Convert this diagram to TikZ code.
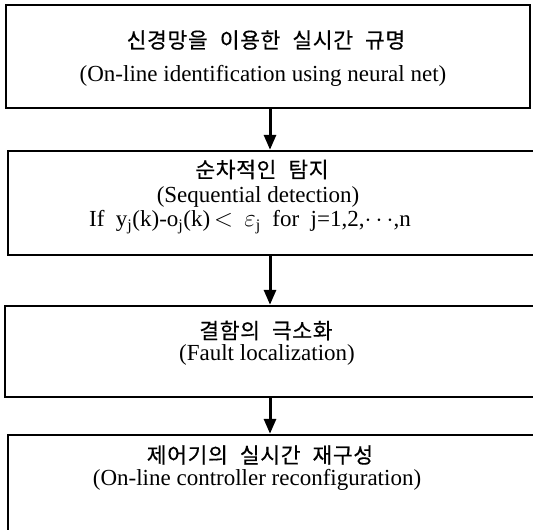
\documentclass[tikz,border=0pt]{standalone}
\usepackage{fontspec}
\setmainfont{Liberation Serif}
\newfontfamily\kor[FakeBold=0.4,WordSpace=2.2,LetterSpace=3]{Noto Sans CJK KR}
\usetikzlibrary{arrows.meta}
\begin{document}
\begin{tikzpicture}[x=1pt,y=-1pt,
  boxstyle/.style={draw,line width=2.4pt,rectangle,inner sep=0pt},
  kortext/.style={font=\kor\fontsize{21.5}{24}\selectfont,inner sep=0pt},
  entext/.style={font=\fontsize{23}{26}\selectfont,inner sep=0pt},
  flow/.style={line width=3pt,-{Triangle[width=12pt,length=15pt]}}]
\useasboundingbox (0,0) rectangle (533,530);
\clip (0,0) rectangle (533,530);
\node[boxstyle,minimum width=524pt,minimum height=103pt] (b1) at (268,56.5) {};
\node[boxstyle,minimum width=532pt,minimum height=104pt] (b2) at (274,203) {};
\node[boxstyle,minimum width=535pt,minimum height=91pt] (b3) at (272.5,351.5) {};
\node[boxstyle,minimum width=532pt,minimum height=110pt] (b4) at (274,490) {};
\coordinate (ax) at (270,0);
\node[kortext] (k1) at (266,40) {신경망을 이용한 실시간 규명};
\node[entext] (e1) at (263,76) {(On-line identification using neural net)};
\node[kortext] (k2) at (262,169.5) {순차적인 탐지};
\node[entext] (e2) at (258,197) {(Sequential detection)};
\node[entext] (e2b) at (250,222) {If \ y\textsubscript{j}(k)-o\textsubscript{j}(k)\,$<$\ \ $\varepsilon$\textsubscript{j} \ for \ j=1,2,$\cdots$,n};
\node[kortext] (k3) at (266,330.5) {결함의 극소화};
\node[entext] (e3) at (267,355) {(Fault localization)};
\node[kortext] (k4) at (260,455) {제어기의 실시간 재구성};
\node[entext] (e4) at (257,480) {(On-line controller reconfiguration)};
\draw[flow] (b1.south -| ax) -- (b2.north -| ax);
\draw[flow] (b2.south -| ax) -- (b3.north -| ax);
\draw[flow] (b3.south -| ax) -- (b4.north -| ax);
\end{tikzpicture}
\end{document}
